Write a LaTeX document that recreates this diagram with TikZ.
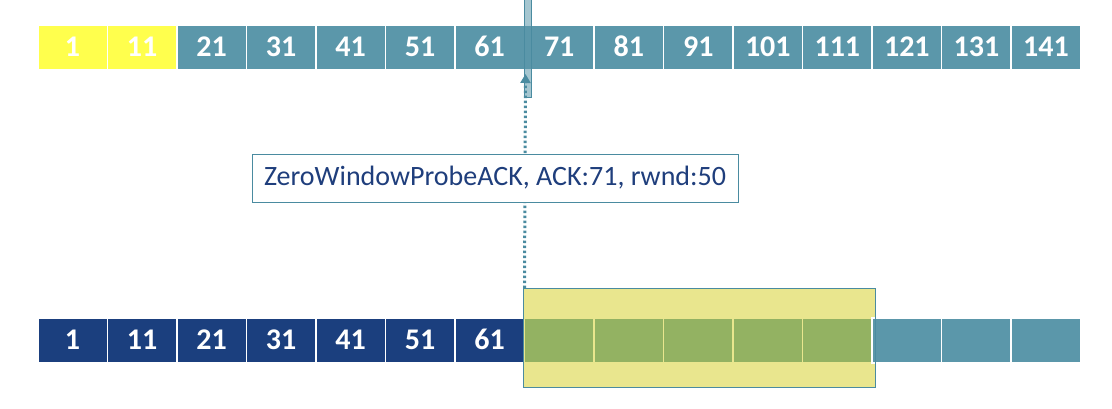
\documentclass[tikz,border=0pt]{standalone}
\usepackage{fontspec}
\setmainfont{Carlito}[Numbers=Lining]
\usetikzlibrary{arrows.meta}
\definecolor{teal1}{HTML}{5B97AA}
\definecolor{tealdark}{HTML}{4A8BA0}
\definecolor{navy}{HTML}{1B3F7E}
\definecolor{yel}{HTML}{FFFF4D}
\definecolor{grn}{HTML}{93B262}
\definecolor{winy}{HTML}{E9E68E}
\definecolor{txtblue}{HTML}{1F3E7C}
\tikzset{
  cell/.style={draw=white, line width=1.5pt, minimum width=69.53pt, minimum height=45pt,
    inner sep=0pt, anchor=north west, text=white, text height=19pt, text depth=0pt,
    font=\bfseries\fontsize{30}{30}\selectfont},
  tcell/.style={cell, fill=teal1},
  ycell/.style={cell, fill=yel},
  ncell/.style={cell, fill=navy},
  gcell/.style={cell, fill=grn, draw=winy},
  labelbox/.style={draw=tealdark, line width=0.8pt, fill=white, inner sep=0pt,
    minimum width=486pt, minimum height=48pt, text=txtblue, font=\fontsize{28}{28}\selectfont},
  probe/.style={draw=tealdark, dash pattern=on 2.5pt off 2.5pt, line width=3pt,
    -{Triangle[length=9pt,width=10pt]}}
}
\begin{document}
\begin{tikzpicture}[x=1pt,y=-1pt]
\useasboundingbox (0,0) rectangle (1112,408);
% top row
\foreach \i/\lab in {0/1,1/11}{
  \node[ycell] (t\i) at ({37+\i*69.53},24) {\lab};
}
\foreach \i/\lab in {2/21,3/31,4/41,5/51,6/61,7/71,8/81,9/91,10/101,11/111,12/121,13/131,14/141}{
  \node[tcell] (t\i) at ({37+\i*69.53},24) {\lab};
}
% pointer
\node[draw=tealdark, fill=teal1, fill opacity=0.55, line width=0.8pt, inner sep=0pt,
  minimum width=7pt, minimum height=100pt, anchor=north west] (ptr) at (524,-3) {};
\coordinate (tip) at (525.5,74);
% bottom window
\node[fill=winy, inner sep=0pt, minimum width=352pt, minimum height=99pt, anchor=north west] (win) at (523,288) {};
% bottom row
\foreach \i/\lab in {0/1,1/11,2/21,3/31,4/41,5/51,6/61}{
  \node[ncell] (b\i) at ({37+\i*69.53},317) {\lab};
}
\foreach \i in {7,8,9,10,11}{
  \node[gcell] (b\i) at ({37+\i*69.53},317) {};
}
\foreach \i in {12,13,14}{
  \node[tcell] (b\i) at ({37+\i*69.53},317) {};
}
\draw[tealdark, line width=0.8pt] (win.north west) rectangle (win.south east);
% probe arrow
\coordinate (start) at ([xshift=1.5pt]win.north west);
\draw[probe] (start) -- (tip);
% label
\node[labelbox] (lbl) at (495,178) {ZeroWindowProbeACK, ACK:71, rwnd:50};
\end{tikzpicture}
\end{document}
